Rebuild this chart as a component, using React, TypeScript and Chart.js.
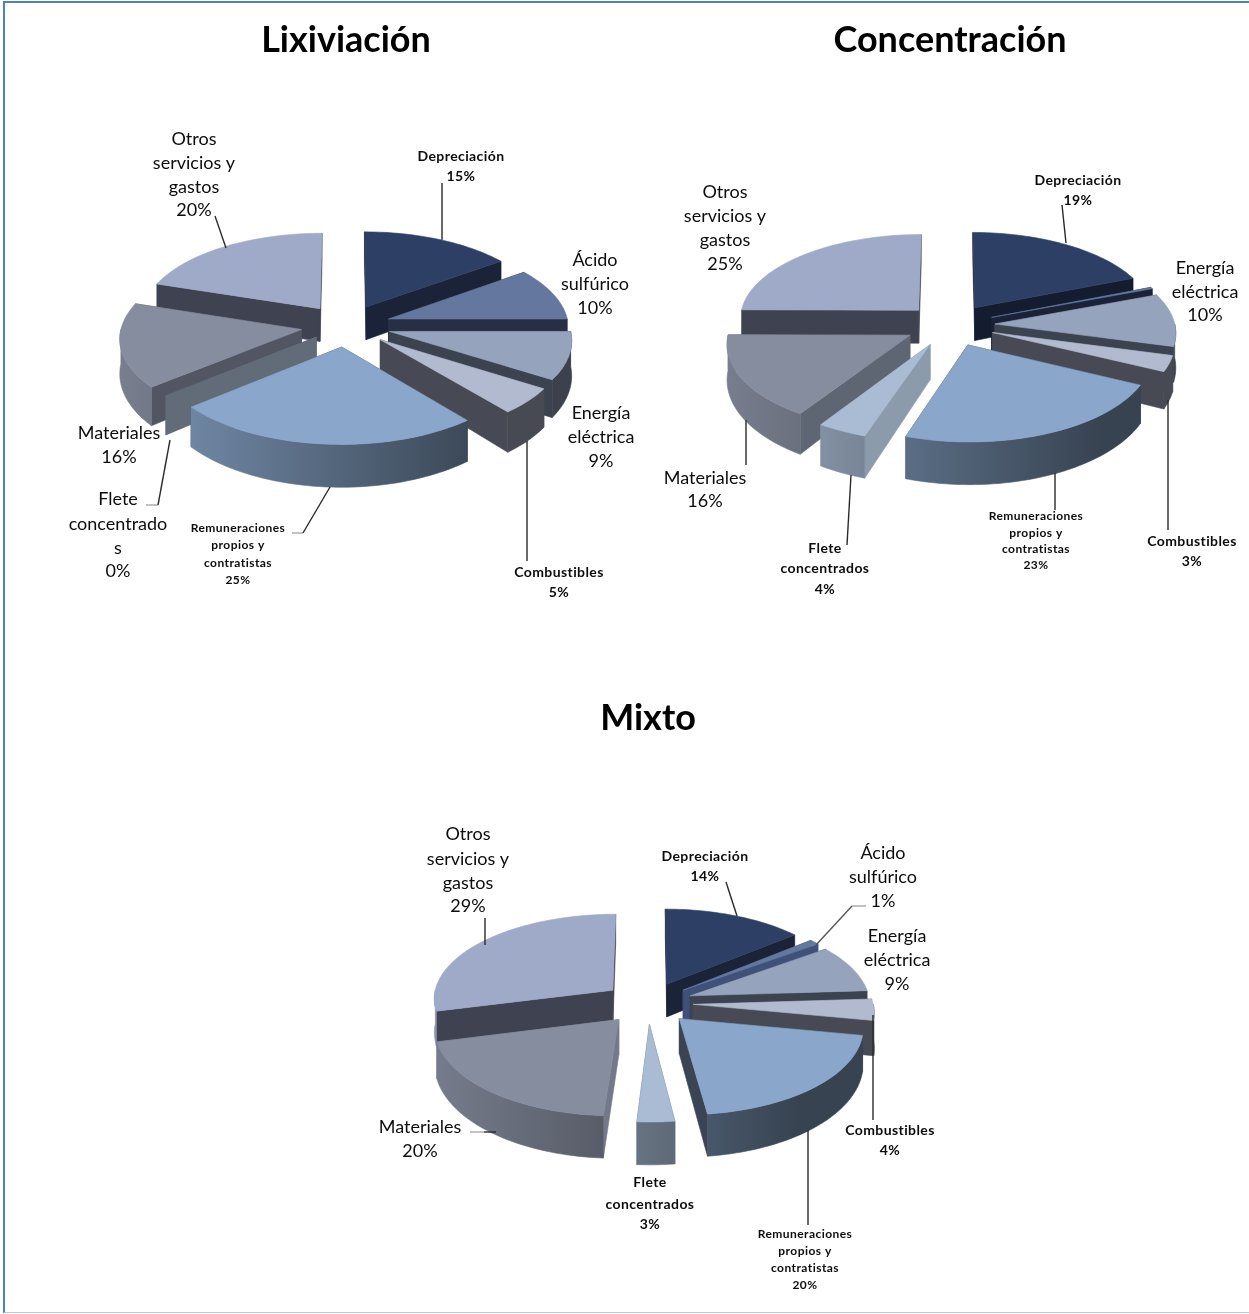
import { useEffect, useRef } from "react";
import Chart from "chart.js/auto";

// Cost categories shared by the three process routes
const categories = [
  "Depreciación",
  "Ácido sulfúrico",
  "Energía eléctrica",
  "Combustibles",
  "Remuneraciones propios y contratistas",
  "Flete concentrados",
  "Materiales",
  "Otros servicios y gastos",
];

// Share of cost per category, in percent
const lixiviacion = [15, 10, 9, 5, 25, 0, 16, 20];
const concentracion = [19, 0.3, 10, 3, 23, 4, 16, 25];
const mixto = [14, 1, 9, 4, 20, 3, 20, 29];

// Wrapped label text per category
const wrapped = [
  ["Depreciación"],
  ["Ácido", "sulfúrico"],
  ["Energía", "eléctrica"],
  ["Combustibles"],
  ["Remuneraciones", "propios y", "contratistas"],
  ["Flete", "concentrados"],
  ["Materiales"],
  ["Otros", "servicios y", "gastos"],
];

const topColors = ["#2e3f66", "#64779f", "#96a3bd", "#b1bace", "#8aa7cb", "#a9bcd4", "#868d9f", "#9eaac8"];

// Colour of the flat cut faces of each wedge, per chart
const cutLix = ["#1a2338", "#282f45", "#3c4350", "#474a54", "#3a4454", "#626b78", "#525562", "#3f4250"];
const cutCon = ["#141c30", "#1a2238", "#3c4350", "#474a54", "#3a4454", "#8c9bab", "#5f6673", "#3f4250"];
const cutMix = ["#1a2338", "#3f5178", "#3c4350", "#474a54", "#3a4454", "#5f6a78", "#73788a", "#3f4250"];

// Distance each wedge is pulled out of the pie, in pixels
const explodeLix = [45, 45, 45, 45, 45, 38, 45, 45];
const explodeAll = [45, 45, 45, 45, 45, 45, 45, 45];

// Projection of the tilted pie
const RADIUS = 180;
const FOCAL = 2055;
const TILT = 0.471;
const DEPTH = 34;
const TITLE_SIZE = 36;

type Label = { i: number; x: number; y: number[]; kind: "big" | "mid" | "small"; lines?: string[] };
type Leader = { pts: number[][]; color?: string };
type Spec = {
  title: string;
  values: number[];
  cuts: string[];
  explode: number[];
  left: number;
  top: number;
  width: number;
  height: number;
  titlePad: number;
  cy: number;
  labels: Label[];
  leaders: Leader[];
};

const labelFonts = {
  big: { font: "400 18px Lato", spacing: "0px" },
  mid: { font: "700 14px Lato", spacing: "0.4px" },
  small: { font: "700 12px Lato", spacing: "0.45px" },
};

const STUB = "#a8a8a8";

const specs: Spec[] = [
  {
    title: "Lixiviación",
    values: lixiviacion,
    cuts: cutLix,
    explode: explodeLix,
    left: 0,
    top: 0,
    width: 692,
    height: 640,
    titlePad: 18.4,
    cy: 325.5,
    labels: [
      { i: 0, x: 461, y: [156, 176], kind: "mid" },
      { i: 1, x: 595, y: [260, 284, 308], kind: "big" },
      { i: 2, x: 601, y: [413, 437, 461], kind: "big" },
      { i: 3, x: 559, y: [572, 592], kind: "mid" },
      { i: 4, x: 238, y: [528, 545, 563, 580], kind: "small" },
      { i: 5, x: 118, y: [499, 524, 548, 571], kind: "big", lines: ["Flete", "concentrado", "s"] },
      { i: 6, x: 119, y: [433, 457], kind: "big" },
      { i: 7, x: 194, y: [139, 163, 187, 210], kind: "big" },
    ],
    leaders: [
      { pts: [[442, 183], [442, 240]] },
      { pts: [[215, 216], [226, 248]] },
      { pts: [[527, 441], [527, 561]] },
      { pts: [[292, 533], [303, 533]], color: STUB },
      { pts: [[303, 533], [330, 487]] },
      { pts: [[146, 505], [158, 505]], color: STUB },
      { pts: [[158, 505], [170, 440]] },
    ],
  },
  {
    title: "Concentración",
    values: concentracion,
    cuts: cutCon,
    explode: explodeAll,
    left: 651,
    top: 0,
    width: 598,
    height: 640,
    titlePad: 18.4,
    cy: 325,
    labels: [
      { i: 0, x: 1078, y: [180, 200], kind: "mid" },
      { i: 2, x: 1205, y: [268, 292, 315], kind: "big" },
      { i: 3, x: 1192, y: [541, 561], kind: "mid" },
      { i: 4, x: 1036, y: [516, 533, 549, 565], kind: "small" },
      { i: 5, x: 825, y: [548, 568, 589], kind: "mid" },
      { i: 6, x: 705, y: [478, 501], kind: "big" },
      { i: 7, x: 725, y: [192, 216, 240, 264], kind: "big" },
    ],
    leaders: [
      { pts: [[1062, 205], [1066, 243]] },
      { pts: [[746, 420], [746, 465]] },
      { pts: [[851, 475], [847, 545]] },
      { pts: [[1055, 473], [1055, 510]] },
      { pts: [[1168, 400], [1168, 530]] },
    ],
  },
  {
    title: "Mixto",
    values: mixto,
    cuts: cutMix,
    explode: explodeAll,
    left: 318,
    top: 670,
    width: 660,
    height: 644,
    titlePad: 26.4,
    cy: 333,
    labels: [
      { i: 0, x: 705, y: [856, 876], kind: "mid" },
      { i: 1, x: 883, y: [853, 877, 901], kind: "big" },
      { i: 2, x: 897, y: [936, 960, 984], kind: "big" },
      { i: 3, x: 890, y: [1130, 1150], kind: "mid" },
      { i: 4, x: 805, y: [1234, 1251, 1268, 1285], kind: "small" },
      { i: 5, x: 650, y: [1182, 1204, 1224], kind: "mid" },
      { i: 6, x: 420, y: [1127, 1151], kind: "big" },
      { i: 7, x: 468, y: [834, 859, 883, 906], kind: "big" },
    ],
    leaders: [
      { pts: [[726, 882], [737, 916]] },
      { pts: [[866, 906], [852, 906]], color: STUB },
      { pts: [[852, 906], [816, 945]], color: "#555" },
      { pts: [[485, 918], [485, 945]] },
      { pts: [[470, 1132], [484, 1132]], color: STUB },
      { pts: [[484, 1132], [496, 1132]] },
      { pts: [[873, 1015], [873, 1120]] },
      { pts: [[808, 1130], [808, 1225]] },
    ],
  },
];

function shade(hex: string, f: number) {
  const n = parseInt(hex.slice(1), 16);
  const c = [(n >> 16) & 255, (n >> 8) & 255, n & 255].map((v) => Math.round(v * f));
  return `rgb(${c[0]},${c[1]},${c[2]})`;
}

// Extrudes the library's arc elements into tilted, exploded wedges
function pie3d(spec: Spec) {
  return {
    id: "pie3d",
    beforeDatasetDraw() {
      return false;
    },
    afterDatasetsDraw(chart: any) {
      const ctx: any = chart.ctx;
      const arcs: any[] = chart.getDatasetMeta(0).data;
      const wedges = arcs.map((el, i) => {
        const off = (el.options.offset || 0) / 4;
        const mid = (el.startAngle + el.endAngle) / 2;
        const ox = Math.cos(mid) * off;
        const oy = -Math.sin(mid) * off;
        const r = el.outerRadius;
        const project = (a: number, rad: number, low: boolean) => {
          const X = ox + Math.cos(a) * rad;
          const Y = oy - Math.sin(a) * rad;
          const p = FOCAL / (FOCAL + Y);
          return [el.x + X * p, el.y - TILT * Y * p + (low ? DEPTH * p * p : 0)];
        };
        const depthKey = oy - (Math.sin(mid) * r) / 2;
        return { el, i, project, r, depthKey };
      });
      wedges.sort((a, b) => b.depthKey - a.depthKey);

      const paint = (pts: number[][], fill: any) => {
        ctx.beginPath();
        pts.forEach((q, n) => (n ? ctx.lineTo(q[0], q[1]) : ctx.moveTo(q[0], q[1])));
        ctx.closePath();
        ctx.fillStyle = fill;
        ctx.strokeStyle = fill;
        ctx.lineWidth = 0.6;
        ctx.fill();
        ctx.stroke();
      };

      wedges.forEach(({ el, i, project, r }) => {
        const a0 = el.startAngle;
        const a1 = el.endAngle;
        const cut = spec.cuts[i];
        const base = topColors[i];

        // flat cut faces, the nearer one last
        const faces = [a0, a1]
          .map((a) => ({
            quad: [project(a, 0, false), project(a, r, false), project(a, r, true), project(a, 0, true)],
            key: project(a, r, false)[1],
          }))
          .sort((p, q) => p.key - q.key);
        faces.forEach((f) => paint(f.quad, cut));

        // curved rim where it faces the viewer
        const lo = Math.max(a0, 0);
        const hi = Math.min(a1, Math.PI);
        if (hi > lo) {
          const grad = ctx.createLinearGradient(el.x - 230, 0, el.x + 150, 0);
          grad.addColorStop(0, shade(base, 0.9));
          grad.addColorStop(1, shade(base, 0.4));
          const upper: number[][] = [];
          const lower: number[][] = [];
          const n = Math.max(2, Math.ceil((hi - lo) / 0.03));
          for (let s = 0; s <= n; s++) {
            const a = lo + ((hi - lo) * s) / n;
            upper.push(project(a, r, false));
            lower.unshift(project(a, r, true));
          }
          paint(upper.concat(lower), grad);
        }

        // upper face
        if (a1 > a0) {
          const face: number[][] = [project(a0, 0, false)];
          const steps = Math.max(2, Math.ceil((a1 - a0) / 0.03));
          for (let s = 0; s <= steps; s++) face.push(project(a0 + ((a1 - a0) * s) / steps, r, false));
          paint(face, base);
        }
      });

      // leader lines and data labels, laid out in page coordinates
      ctx.save();
      ctx.translate(-spec.left, -spec.top);
      spec.leaders.forEach((l) => {
        ctx.beginPath();
        l.pts.forEach((q, n) => (n ? ctx.lineTo(q[0], q[1]) : ctx.moveTo(q[0], q[1])));
        ctx.strokeStyle = l.color || "#2a2a2a";
        ctx.lineWidth = 1.4;
        ctx.stroke();
      });
      ctx.textAlign = "center";
      ctx.textBaseline = "middle";
      ctx.fillStyle = "#0c0c0c";
      spec.labels.forEach((lab) => {
        const lines = (lab.lines || wrapped[lab.i]).concat(`${Math.round(spec.values[lab.i])}%`);
        ctx.font = labelFonts[lab.kind].font;
        ctx.letterSpacing = labelFonts[lab.kind].spacing;
        lines.forEach((t, n) => ctx.fillText(t, lab.x, lab.y[n]));
      });
      ctx.restore();
    },
  };
}

function Pie({ spec }: { spec: Spec }) {
  const ref = useRef<HTMLCanvasElement>(null);
  useEffect(() => {
    const block = TITLE_SIZE * 1.2 + spec.titlePad;
    const chart = new Chart(ref.current!, {
      type: "pie",
      data: {
        labels: categories,
        datasets: [
          {
            data: spec.values,
            backgroundColor: topColors,
            borderWidth: 0,
            offset: spec.explode.map((d) => d * 4),
          },
        ],
      },
      options: {
        responsive: false,
        animation: false,
        radius: RADIUS,
        layout: { padding: { bottom: spec.height - (2 * spec.cy - block) } },
        plugins: {
          legend: { display: false },
          tooltip: { enabled: false },
          title: {
            display: true,
            text: spec.title,
            color: "#000",
            font: { family: "Lato", size: TITLE_SIZE, weight: "bold" },
            padding: { top: spec.titlePad, bottom: 0 },
          },
        },
      } as any,
      plugins: [pie3d(spec)],
    });
    return () => chart.destroy();
  }, [spec]);
  return (
    <canvas
      ref={ref}
      width={spec.width}
      height={spec.height}
      style={{ position: "absolute", left: spec.left, top: spec.top }}
    />
  );
}

export default function App() {
  return (
    <div style={{ position: "absolute", left: 0, top: 0, width: 1249, height: 1314, background: "#fff", overflow: "hidden" }}>
      <div
        style={{
          position: "absolute",
          left: 3,
          top: 1,
          width: 1246,
          height: 1312,
          boxSizing: "border-box",
          borderLeft: "2px solid #4f81bd",
          borderTop: "2px solid #4f81bd",
          borderBottom: "1px solid #b8c9de",
        }}
      />
      {specs.map((s) => (
        <Pie key={s.title} spec={s} />
      ))}
    </div>
  );
}
